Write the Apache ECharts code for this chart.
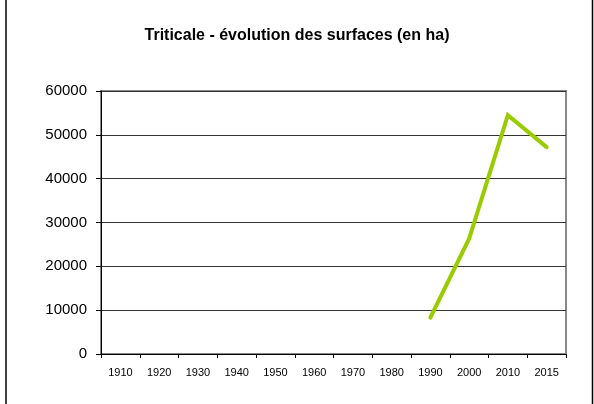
<!DOCTYPE html>
<html>
<head>
<meta charset="utf-8">
<script src="https://cdn.jsdelivr.net/npm/echarts@6/dist/echarts.min.js"></script>
<style>
  html, body { margin: 0; padding: 0; background: #fff; }
  #chart { width: 594px; height: 404px; }
</style>
</head>
<body>
<div id="chart"></div>
<script>
const years = ['1910', '1920', '1930', '1940', '1950', '1960', '1970', '1980', '1990', '2000', '2010', '2015'];
const surfaces = [null, null, null, null, null, null, null, null, 8300, 26300, 54500, 47200];
const yTicks = [0, 10000, 20000, 30000, 40000, 50000, 60000];

const chart = echarts.init(document.getElementById('chart'), null, { renderer: 'canvas' });

chart.setOption({
  backgroundColor: '#ffffff',
  animation: false,
  title: {
    text: 'Triticale - évolution des surfaces (en ha)',
    left: 'center',
    top: 23,
    textStyle: { fontFamily: 'Liberation Sans, Arial', fontSize: 16, fontWeight: 'bold', color: '#000' }
  },
  grid: { left: 101, right: 28, top: 91, bottom: 50, show: true, borderColor: '#888', borderWidth: 2, backgroundColor: 'transparent' },
  xAxis: {
    type: 'category',
    data: years,
    boundaryGap: true,
    axisLine: { lineStyle: { color: '#000', width: 1 } },
    axisTick: { show: true, length: 4, alignWithLabel: false, lineStyle: { color: '#000' } },
    axisLabel: { fontFamily: 'Liberation Sans, Arial', fontSize: 11, color: '#000', margin: 13, interval: 0 },
    splitLine: { show: false }
  },
  yAxis: {
    type: 'value',
    min: yTicks[0],
    max: yTicks[yTicks.length - 1],
    interval: 10000,
    axisLine: { show: true, lineStyle: { color: '#000', width: 1 } },
    axisTick: { show: true, length: 5, lineStyle: { color: '#000' } },
    axisLabel: { fontFamily: 'Liberation Sans, Arial', fontSize: 15, color: '#000', margin: 14, formatter: v => String(v) },
    splitLine: { show: true, lineStyle: { color: '#333', width: 1 } }
  },
  series: [{
    type: 'line',
    data: surfaces,
    connectNulls: false,
    symbol: 'none',
    lineStyle: { color: '#99cc00', width: 4, cap: 'round', join: 'miter' },
    itemStyle: { color: '#99cc00' }
  }],
  graphic: [
    { type: 'line', shape: { x1: 6, y1: 0, x2: 6, y2: 404 }, style: { stroke: '#000', lineWidth: 1.5 } },
    { type: 'line', shape: { x1: 592.5, y1: 0, x2: 592.5, y2: 404 }, style: { stroke: '#000', lineWidth: 1.5 } }
  ]
});
</script>
</body>
</html>
